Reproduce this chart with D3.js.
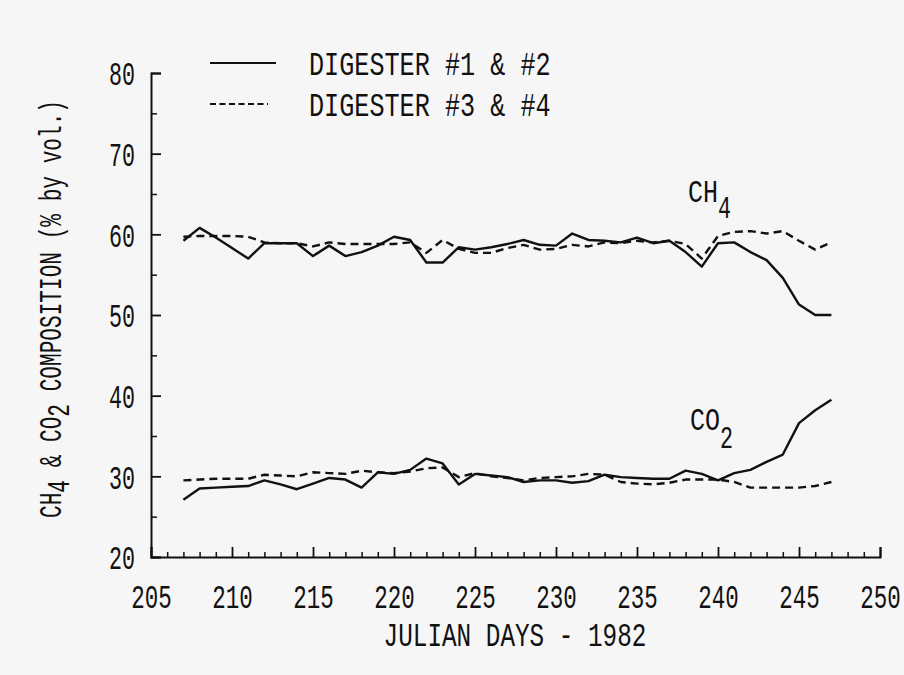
<!DOCTYPE html>
<html><head><meta charset="utf-8">
<script src="https://cdn.jsdelivr.net/npm/d3@7"></script>
<style>body{margin:0;background:#f6f6f6}svg{display:block}</style>
</head><body><svg id="c" width="904" height="675"></svg>
<script>
// ---- data ----
const days = [207,208,209,210,211,212,213,214,215,216,217,218,219,220,221,222,223,224,225,226,227,
              228,229,230,231,232,233,234,235,236,237,238,239,240,241,242,243,244,245,246,247];
const ch4_d12 = [59.2,60.8,59.6,58.3,57.0,58.9,58.9,58.9,57.3,58.6,57.3,57.8,58.6,59.7,59.3,56.5,56.5,58.4,58.1,58.4,58.8,
                 59.3,58.7,58.6,60.1,59.3,59.2,59.0,59.6,58.9,59.2,57.8,56.0,58.9,59.0,57.8,56.8,54.6,51.3,50.0,50.0];
const ch4_d34 = [59.7,59.8,59.8,59.8,59.7,59.0,58.9,58.9,58.5,59.0,58.8,58.8,58.8,58.8,59.0,57.7,59.3,58.2,57.7,57.7,58.3,
                 58.7,58.1,58.2,58.7,58.5,59.0,58.9,59.2,59.0,59.2,58.8,57.0,59.8,60.3,60.4,60.1,60.4,59.2,58.1,59.0];
const co2_d12 = [27.1,28.5,28.6,28.7,28.8,29.5,29.0,28.4,29.1,29.8,29.6,28.6,30.5,30.3,30.8,32.2,31.6,29.0,30.3,30.1,29.9,
                 29.3,29.5,29.5,29.2,29.4,30.2,29.9,29.8,29.7,29.7,30.7,30.3,29.5,30.4,30.8,31.8,32.7,36.6,38.2,39.5];
const co2_d34 = [29.5,29.6,29.7,29.7,29.7,30.2,30.1,30.0,30.5,30.4,30.3,30.7,30.5,30.4,30.6,31.0,31.1,29.9,30.4,30.0,29.8,
                 29.5,29.8,29.9,30.0,30.3,30.2,29.3,29.1,29.0,29.2,29.6,29.6,29.6,29.3,28.6,28.6,28.6,28.6,28.8,29.3];
const xTicksMajor = [205,210,215,220,225,230,235,240,245,250];
const yTicksMajor = [20,30,40,50,60,70,80];
const yTicksMinor = [25,35,45,55,65,75];
const legendLabels = ["DIGESTER #1 & #2", "DIGESTER #3 & #4"];
const xTitle = "JULIAN DAYS - 1982";

// ---- drawing ----
const FONT = "'Liberation Mono','DejaVu Sans Mono',monospace";
const INK = "#111";
const svg = d3.select("#c");
svg.append("rect").attr("width",904).attr("height",675).attr("fill","#f6f6f6");

const x = d3.scaleLinear().domain([205,250]).range([151,880]);
const y = d3.scaleLinear().domain([20,80]).range([557,73]);

function styleText(sel, perChar){
  sel.attr("font-family",FONT).attr("font-size",33).attr("fill",INK)
     .attr("lengthAdjust","spacingAndGlyphs")
     .attr("textLength", function(){ return this.textContent.length*perChar; });
}

// X axis
const gx = svg.append("g").attr("transform",`translate(0,${y(20)})`);
gx.call(d3.axisBottom(x).tickValues(xTicksMajor).tickSize(-10).tickPadding(30).tickFormat(d3.format("d")));
gx.select(".domain").attr("stroke",INK).attr("stroke-width",2);
gx.selectAll(".tick line").attr("stroke",INK).attr("stroke-width",1.8);
gx.selectAll(".tick text").call(styleText,13.5).attr("dy",0).attr("y",51);
const gxm = svg.append("g").attr("transform",`translate(0,${y(20)})`);
gxm.call(d3.axisBottom(x).tickValues(d3.range(206,250).filter(d=>d%5!==0)).tickSize(-5).tickFormat(""));
gxm.select(".domain").remove();
gxm.selectAll(".tick line").attr("stroke",INK).attr("stroke-width",1.5);

// Y axis
const gy = svg.append("g").attr("transform",`translate(${x(205)},0)`);
gy.call(d3.axisLeft(y).tickValues(yTicksMajor).tickSize(-10).tickPadding(16).tickFormat(d3.format("d")));
gy.select(".domain").attr("stroke",INK).attr("stroke-width",2);
gy.selectAll(".tick line").attr("stroke",INK).attr("stroke-width",1.8);
gy.selectAll(".tick text").call(styleText,13).attr("dy","0.36em");
const gym = svg.append("g").attr("transform",`translate(${x(205)},0)`);
gym.call(d3.axisLeft(y).tickValues(yTicksMinor).tickSize(-6).tickFormat(""));
gym.select(".domain").remove();
gym.selectAll(".tick line").attr("stroke",INK).attr("stroke-width",1.5);

// lines
const line = d3.line().x((d,i)=>x(days[i])).y(d=>y(d));
const series = [
  {v:ch4_d12, dash:null},{v:ch4_d34, dash:"8,5"},
  {v:co2_d12, dash:null},{v:co2_d34, dash:"8,5"}
];
series.forEach(s=>{
  svg.append("path").datum(s.v).attr("d",line).attr("fill","none")
    .attr("stroke",INK).attr("stroke-width",2.4).attr("stroke-linejoin","round")
    .attr("stroke-dasharray",s.dash);
});

// legend
const lg = svg.append("g");
lg.append("line").attr("x1",210).attr("x2",276).attr("y1",63).attr("y2",63).attr("stroke",INK).attr("stroke-width",2);
lg.append("line").attr("x1",210).attr("x2",268).attr("y1",104).attr("y2",104).attr("stroke",INK).attr("stroke-width",2).attr("stroke-dasharray","6,3.5");
lg.append("text").attr("x",309).attr("y",75).text(legendLabels[0]).call(styleText,15.1);
lg.append("text").attr("x",309).attr("y",116).text(legendLabels[1]).call(styleText,15.1);

// annotations
function chem(xp, yp, main, sub, dsub){
  const t = svg.append("text").attr("x",xp).attr("y",yp)
    .attr("font-family",FONT).attr("font-size",31).attr("fill",INK);
  t.append("tspan").text(main).attr("textLength",main.length*15).attr("lengthAdjust","spacingAndGlyphs");
  t.append("tspan").attr("dy",dsub).text(sub).attr("textLength",13).attr("lengthAdjust","spacingAndGlyphs");
}
chem(688, 202, "CH", "4", 16);
chem(690, 430, "CO", "2", 18);

// axis titles
svg.append("text").attr("x",515).attr("y",646).attr("text-anchor","middle").text(xTitle).call(styleText,14.6);

const yt = svg.append("text").attr("transform","translate(61,309) rotate(-90)")
  .attr("text-anchor","middle").attr("font-family",FONT).attr("font-size",31).attr("fill",INK)
  .attr("textLength",418).attr("lengthAdjust","spacingAndGlyphs");
yt.append("tspan").text("CH");
yt.append("tspan").attr("dy",8).text("4");
yt.append("tspan").attr("dy",-8).text(" & CO");
yt.append("tspan").attr("dy",8).text("2");
yt.append("tspan").attr("dy",-8).text(" COMPOSITION (% by vol.)");
</script></body></html>
